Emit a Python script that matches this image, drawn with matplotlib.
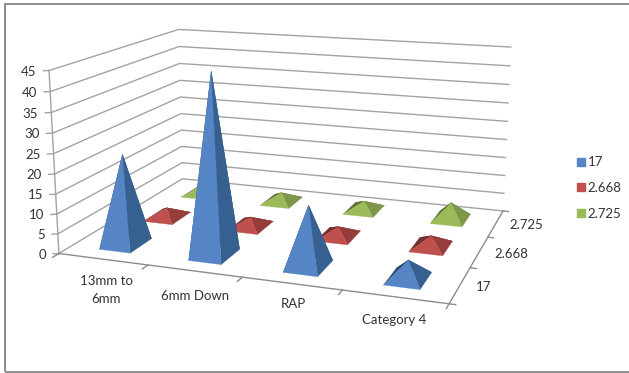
import matplotlib
matplotlib.use('Agg')
import matplotlib.pyplot as plt
from mpl_toolkits.mplot3d import proj3d
from mpl_toolkits.mplot3d.art3d import Poly3DCollection

W, H = 629, 373
plt.rcParams['font.family'] = ['Lato', 'DejaVu Sans']

categories = ['13mm to\n6mm', '6mm Down', 'RAP', 'Category 4']
series_names = ['17', '2.668', '2.725']
values_17 = [23, 45, 15, 4.5]
values_2668 = [2.5, 2.5, 2.5, 2.8]
values_2725 = [2.5, 2.5, 2.5, 4.5]
z_ticks = [0, 5, 10, 15, 20, 25, 30, 35, 40, 45]

# label placement along the floor, per category
label_x = [0.94, 0.77, 0.69, 0.63]
label_y = [-0.75, -0.6, -0.48, -0.54]

grid = '#a3a3a3'
axis_col = '#8c8c8c'
text_col = '#333333'
front_cols = ['#5585c5', '#c0504d', '#9bbb59']
right_cols = ['#35608f', '#963c3a', '#7d9647']
left_cols = ['#274a72', '#74302e', '#5f7336']
half_x = 0.175
half_y = 0.245

fig = plt.figure(figsize=(W/100, H/100), dpi=100)

A, left, bottom = 489.19, 42.56, -24.41
ax = fig.add_axes([left/W, bottom/H, A/W, A/H], projection='3d')
ax.set_xlim(0, 4, view_margin=0)
ax.set_ylim(0, 3, view_margin=0)
ax.set_zlim(0, 45, view_margin=0)
ax.set_xticks([])
ax.set_yticks([])
ax.set_zticks([])
ax.view_init(elev=14.159, azim=-70.461, roll=0)
ax.set_proj_type('persp', focal_length=0.4252)
ax.set_box_aspect((1.3598, 1, 0.6384))
ax.set_axis_off()
ax.computed_zorder = False
M = ax.get_proj()


def label(x, y, z, s, **kw):
    # flat text placed at a projected 3d position
    px, py, _ = proj3d.proj_transform(x, y, z, M)
    ax.text2D(px, py, s, transform=ax.transData, va='center', fontsize=9.5, color=text_col, **kw)


# walls and tick marks
for z in z_ticks:
    ax.plot([0, 0, 4], [0, 3, 3], [z, z, z], color=grid, lw=1, zorder=1)
    ax.plot([0, -0.05], [0, -0.03], [z, z], color=grid, lw=1, zorder=1)
    label(-0.13, -0.03, z-0.4, str(z), ha='right')
ax.plot([0, 0], [0, 0], [0, 45], color=grid, lw=1, zorder=1)
ax.plot([0, 4, 4], [0, 0, 3], [0, 0, 0], color=axis_col, lw=1, zorder=1)
for i in range(5):
    ax.plot([i, i], [0, -0.12], [0, 0], color=axis_col, lw=1, zorder=1)
for j in range(4):
    ax.plot([4, 4.06], [j, j], [0, 0], color=axis_col, lw=1, zorder=1)

for i, c in enumerate(categories):
    label(i+label_x[i], label_y[i], 0, c, ha='center', linespacing=1.55)
for j, n in enumerate(series_names):
    label(4.15, j+0.5, 0, n, ha='left')

series_values = [values_17, values_2668, values_2725]

# back row first so nearer pyramids cover the ones behind
for j in [2, 1, 0]:
    for i, val in enumerate(series_values[j]):
        x0, x1 = i+0.5-half_x, i+0.5+half_x
        y0, y1 = j+0.5-half_y, j+0.5+half_y
        tip = (i+0.5, j+0.5, val)
        faces = [[(x0, y1, 0), (x1, y1, 0), tip],
                 [(x0, y0, 0), (x0, y1, 0), tip],
                 [(x1, y0, 0), (x1, y1, 0), tip],
                 [(x0, y0, 0), (x1, y0, 0), tip]]
        cols = [left_cols[j], left_cols[j], right_cols[j], front_cols[j]]
        pyr = Poly3DCollection(faces, facecolors=cols, edgecolors=cols, linewidths=0.2,
                               zsort='average', zorder=5-j)
        ax.add_collection3d(pyr, autolim=False)

handles = [plt.Line2D([], [], ls='none', marker='s', ms=5.8, mfc=c, mec=c, label=n)
           for c, n in zip(front_cols, series_names)]
fig.legend(handles=handles, loc='center left', bbox_to_anchor=(577/W, 1-188/H), frameon=False,
           fontsize=9.5, labelcolor=text_col, handlelength=0.6, handletextpad=0.2,
           labelspacing=1.05, borderpad=0, borderaxespad=0)

# chart area border, runs off the right edge
fig.add_artist(plt.Rectangle((4.5/W, 1-371.5/H), 640/W, 368/H, fill=False, ec=axis_col, lw=1.4,
                             transform=fig.transFigure))
fig.savefig('out.png', dpi=100)
